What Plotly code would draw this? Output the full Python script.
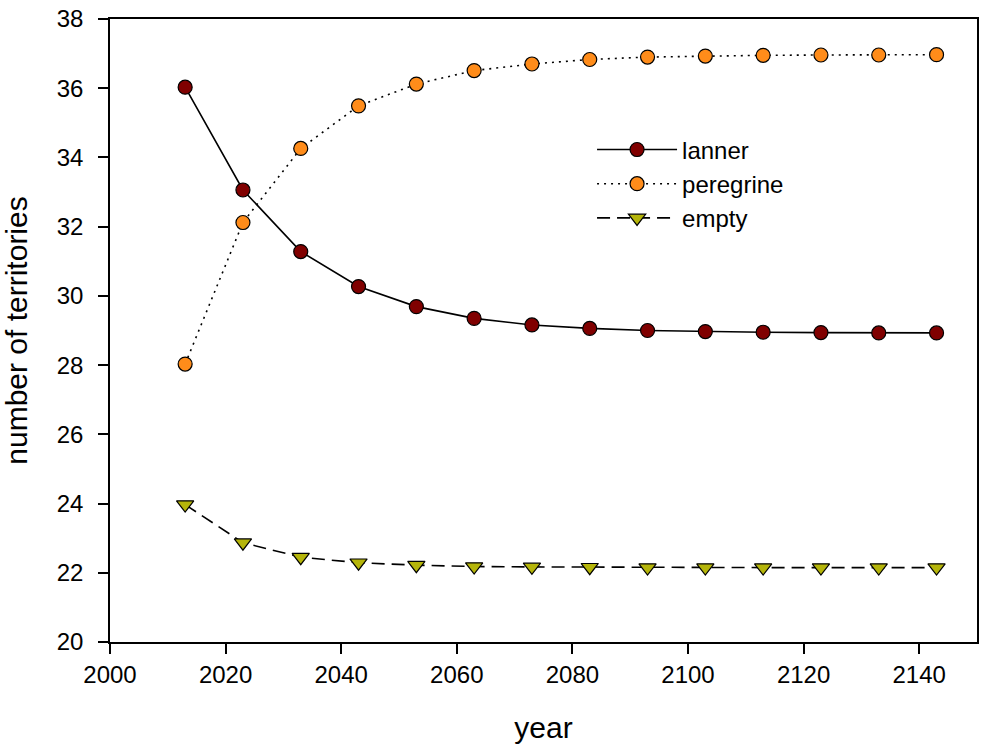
import plotly.graph_objects as go

years = [2013, 2023, 2033, 2043, 2053, 2063, 2073, 2083, 2093, 2103, 2113, 2123, 2133, 2143]
lanner = [36.03, 33.06, 31.28, 30.27, 29.69, 29.35, 29.16, 29.06, 29.00, 28.97, 28.95, 28.94, 28.93, 28.93]
peregrine = [28.03, 32.12, 34.26, 35.49, 36.12, 36.51, 36.70, 36.83, 36.90, 36.93, 36.95, 36.96, 36.96, 36.97]
empty = [23.97, 22.87, 22.45, 22.29, 22.22, 22.18, 22.17, 22.16, 22.15, 22.15, 22.15, 22.15, 22.15, 22.15]

x_ticks = [2000, 2020, 2040, 2060, 2080, 2100, 2120, 2140]
y_ticks = [20, 22, 24, 26, 28, 30, 32, 34, 36, 38]

FONT = "Liberation Sans, Arial, sans-serif"

fig = go.Figure()
fig.add_trace(go.Scatter(
    x=years, y=lanner, name="lanner", mode="lines+markers",
    line=dict(color="black", width=1.6, dash="solid"),
    marker=dict(symbol="circle", size=14, color="#800000", line=dict(color="black", width=1.2)),
))
fig.add_trace(go.Scatter(
    x=years, y=peregrine, name="peregrine", mode="lines+markers",
    line=dict(color="black", width=1.6, dash="2px,5px"),
    marker=dict(symbol="circle", size=14, color="#FF8C1A", line=dict(color="black", width=1.2)),
))
fig.add_trace(go.Scatter(
    x=years, y=empty, name="empty", mode="lines+markers",
    line=dict(color="black", width=1.6, dash="13px,7px"),
    marker=dict(symbol="triangle-down", size=15, color="#B5B50A", line=dict(color="black", width=1.2)),
))

fig.update_layout(
    width=981, height=751,
    margin=dict(l=110, r=4, t=19, b=109),
    paper_bgcolor="white", plot_bgcolor="white",
    font=dict(family=FONT, color="black", size=24),
    showlegend=True,
    legend=dict(
        x=0.556, y=0.826, xanchor="left", yanchor="top",
        bgcolor="rgba(0,0,0,0)", font=dict(size=24, family=FONT),
        tracegroupgap=0, itemwidth=80,
    ),
    xaxis=dict(
        range=[2000, 2150], tickvals=x_ticks, ticktext=[str(v) for v in x_ticks],
        showgrid=False, zeroline=False, showline=True, linecolor="black", linewidth=1.5,
        mirror=True, ticks="outside", ticklen=10, tickwidth=1.5, tickcolor="black",
        tickfont=dict(size=24, family=FONT), automargin=False, ticklabeloverflow="allow",
        title=dict(text="year", font=dict(size=30, family=FONT), standoff=30),
    ),
    yaxis=dict(
        range=[20, 38], tickvals=y_ticks, ticktext=[str(v) for v in y_ticks],
        showgrid=False, zeroline=False, showline=True, linecolor="black", linewidth=1.5,
        mirror=True, ticks="outside", ticklen=10, tickwidth=1.5, tickcolor="black",
        tickfont=dict(size=24, family=FONT), automargin=False, ticklabelstandoff=10,
        ticklabeloverflow="allow",
        title=dict(text="number of territories", font=dict(size=30, family=FONT), standoff=22),
    ),
)

fig.write_html("out.html", config={"displayModeBar": False},
               post_script="document.body.style.margin='0';")
